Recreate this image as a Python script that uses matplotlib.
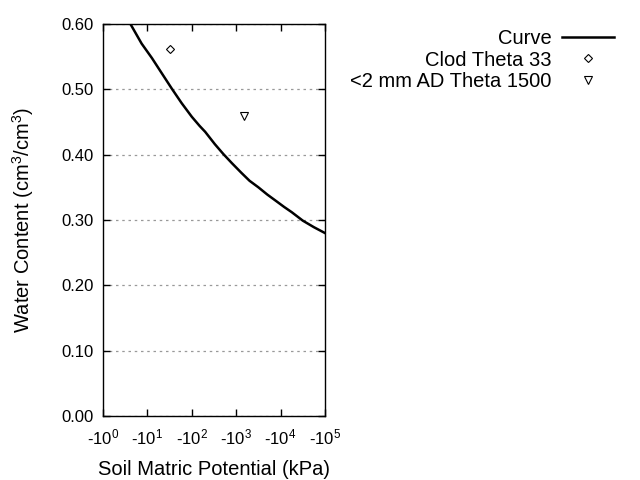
import math
import matplotlib
matplotlib.use("Agg")
import matplotlib.pyplot as plt
from matplotlib.ticker import FixedLocator, FuncFormatter, NullLocator

plt.rcParams['font.family'] = ['Liberation Sans', 'DejaVu Sans']
plt.rcParams['mathtext.fontset'] = 'custom'
plt.rcParams['mathtext.rm'] = 'Liberation Sans'
plt.rcParams['mathtext.it'] = 'Liberation Sans'

# Curve (suction in kPa, water content cm3/cm3)
curve_kpa = [4.07, 7.41, 12.6, 20.9, 35.5, 58.9, 100, 150, 200, 331, 513, 800, 1318,
             2000, 3162, 5000, 7943, 12000, 17783, 31623, 56234, 100000]
curve_theta = [0.601, 0.570, 0.548, 0.525, 0.501, 0.479, 0.458, 0.444, 0.435, 0.416,
               0.401, 0.387, 0.372, 0.360, 0.350, 0.339, 0.329, 0.320, 0.312, 0.299,
               0.289, 0.280]

clod_kpa = [33]
clod_theta = [0.561]

ad_kpa = [1500]
ad_theta = [0.459]

x_decades = [0, 1, 2, 3, 4, 5]
y_ticks = [0.0, 0.1, 0.2, 0.3, 0.4, 0.5, 0.6]

fig = plt.figure(figsize=(6.4, 4.8), dpi=100)
ax = fig.add_axes([103/640, 64/480, 222/640, 392/480])

ax.plot(curve_kpa, curve_theta, color='black', lw=1.8, label='Curve')
ax.plot(clod_kpa, clod_theta, ls='none', marker='D', ms=4, mfc='white', mec='black', mew=0.8,
        label='Clod Theta 33')
ax.plot(ad_kpa, ad_theta, ls='none', marker='v', ms=6, mfc='white', mec='black', mew=0.8,
        label='<2 mm AD Theta 1500')

ax.set_xscale('log')
ax.set_xlim(1, 1e5)
ax.set_ylim(0, 0.6)
ax.xaxis.set_major_locator(FixedLocator([10**d for d in x_decades]))
ax.xaxis.set_minor_locator(NullLocator())
ax.xaxis.set_major_formatter(FuncFormatter(
    lambda v, p: '-' + r'$\mathregular{10^{%d}}$' % round(math.log10(v))))
ax.set_yticks(y_ticks)
ax.yaxis.set_major_formatter(FuncFormatter(lambda v, p: '%.2f' % v))

ax.tick_params(axis='both', direction='in', top=True, right=True, length=5, width=1,
               labelsize=12, colors='black')
ax.tick_params(axis='x', pad=8)
ax.tick_params(axis='y', pad=6.5)
ax.grid(axis='y', ls=(0, (2, 3)), color='#999999', lw=0.9)
for s in ax.spines.values():
    s.set_linewidth(1.0)

ax.set_xlabel('Soil Matric Potential (kPa)', fontsize=14.5)
ax.set_ylabel(r'Water Content (cm$^{3}$/cm$^{3}$)', fontsize=14.5)
ax.xaxis.set_label_coords(0.5, -0.111)
ax.yaxis.set_label_coords(-0.303, 0.5)

fig.legend(loc='upper right', bbox_to_anchor=(626/640, 1 - 17/480), frameon=False,
           markerfirst=False, fontsize=14.5, handlelength=2.6, handletextpad=0.5,
           labelspacing=0.12, borderpad=0.1)

fig.savefig('out.png', dpi=100)
